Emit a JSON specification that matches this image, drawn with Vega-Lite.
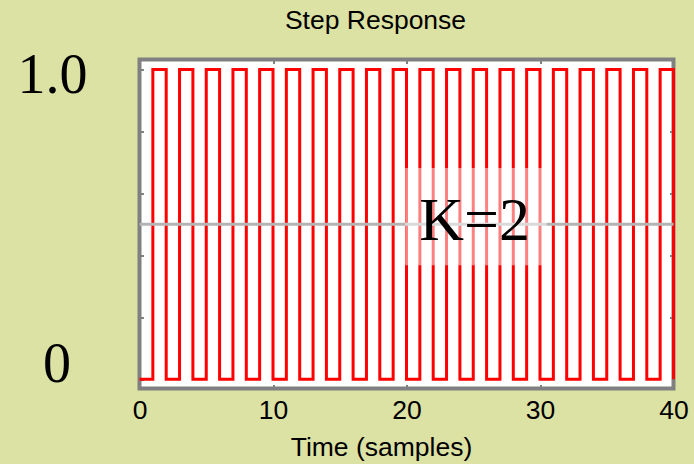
{
  "$schema": "https://vega.github.io/schema/vega-lite/v6.json",
  "autosize": "none",
  "width": 534,
  "height": 329,
  "padding": {"left": 139.5, "top": 59.5, "right": 20.5, "bottom": 75.5},
  "background": "#dce1a4",
  "title": {
    "text": "Step Response",
    "font": "Liberation Sans",
    "fontSize": 26.5,
    "fontWeight": "normal",
    "color": "#000000",
    "anchor": "middle",
    "dx": -31,
    "offset": 13
  },
  "config": {
    "view": {"fill": "#ffffff", "stroke": "#808080", "strokeWidth": 4}
  },
  "datasets": {
    "wave": [
      {"t": 0, "v": 0}, {"t": 1, "v": 1}, {"t": 2, "v": 0}, {"t": 3, "v": 1},
      {"t": 4, "v": 0}, {"t": 5, "v": 1}, {"t": 6, "v": 0}, {"t": 7, "v": 1},
      {"t": 8, "v": 0}, {"t": 9, "v": 1}, {"t": 10, "v": 0}, {"t": 11, "v": 1},
      {"t": 12, "v": 0}, {"t": 13, "v": 1}, {"t": 14, "v": 0}, {"t": 15, "v": 1},
      {"t": 16, "v": 0}, {"t": 17, "v": 1}, {"t": 18, "v": 0}, {"t": 19, "v": 1},
      {"t": 20, "v": 0}, {"t": 21, "v": 1}, {"t": 22, "v": 0}, {"t": 23, "v": 1},
      {"t": 24, "v": 0}, {"t": 25, "v": 1}, {"t": 26, "v": 0}, {"t": 27, "v": 1},
      {"t": 28, "v": 0}, {"t": 29, "v": 1}, {"t": 30, "v": 0}, {"t": 31, "v": 1},
      {"t": 32, "v": 0}, {"t": 33, "v": 1}, {"t": 34, "v": 0}, {"t": 35, "v": 1},
      {"t": 36, "v": 0}, {"t": 37, "v": 1}, {"t": 38, "v": 0}, {"t": 39, "v": 1},
      {"t": 40, "v": 0}
    ],
    "ref": [{"level": 0.5}],
    "label": [{"x1": 19.9, "x2": 30.5, "y1": 0.368, "y2": 0.682, "xt": 25.1, "yt": 0.449, "text": "K=2"}]
  },
  "resolve": {"axis": {"x": "independent", "y": "independent"}},
  "layer": [
    {
      "data": {"name": "wave"},
      "mark": {"type": "line", "interpolate": "step-after", "color": "#ff0000", "strokeWidth": 3},
      "encoding": {
        "x": {
          "field": "t", "type": "quantitative",
          "scale": {"domain": [0, 40], "nice": false, "zero": false},
          "axis": {
            "orient": "bottom",
            "values": [0, 10, 20, 30, 40],
            "domain": false,
            "grid": false,
            "tickSize": -4,
            "tickColor": "#808080",
            "tickWidth": 2,
            "labelFont": "Liberation Sans",
            "labelFontSize": 26.5,
            "labelColor": "#000000",
            "labelPadding": 13,
            "labelFlush": false,
            "title": "Time (samples)",
            "titleFont": "Liberation Sans",
            "titleFontSize": 26.5,
            "titleFontWeight": "normal",
            "titleColor": "#000000",
            "titleAlign": "center",
            "titleBaseline": "alphabetic",
            "titleX": 241.5,
            "titleY": 67
          }
        },
        "y": {
          "field": "v", "type": "quantitative",
          "scale": {"domain": [-0.03, 1.032], "nice": false, "zero": false},
          "axis": {
            "orient": "left",
            "values": [0, 0.2, 0.4, 0.6, 0.8, 1],
            "domain": false,
            "grid": false,
            "tickSize": -4,
            "tickColor": "#808080",
            "tickWidth": 2,
            "labelExpr": "datum.value == 1 ? '1.0' : (datum.value == 0 ? '0' : '')",
            "labelFont": "Liberation Serif",
            "labelFontSize": 56,
            "labelColor": "#000000",
            "labelAlign": "center",
            "labelBaseline": "alphabetic",
            "labelFlush": false,
            "labelOverlap": false,
            "labelPadding": {"condition": {"test": "datum.value == 1", "value": 91.5}, "value": 87},
            "labelOffset": {"condition": {"test": "datum.value == 1", "value": 23.5}, "value": 2},
            "title": null
          }
        }
      }
    },
    {
      "data": {"name": "ref"},
      "mark": {"type": "rule", "color": "#b4b4b4", "strokeWidth": 3},
      "encoding": {
        "y": {"field": "level", "type": "quantitative", "axis": null}
      }
    },
    {
      "data": {"name": "label"},
      "mark": {"type": "rect", "color": "#ffffff", "opacity": 0.5},
      "encoding": {
        "x": {
          "field": "x1", "type": "quantitative",
          "axis": {
            "orient": "top",
            "values": [10, 20, 30],
            "domain": false, "grid": false, "labels": false,
            "tickSize": -4, "tickColor": "#808080", "tickWidth": 2,
            "title": null
          }
        },
        "x2": {"field": "x2"},
        "y": {
          "field": "y1", "type": "quantitative",
          "axis": {
            "orient": "right",
            "values": [0.2, 0.4, 0.6, 0.8],
            "domain": false, "grid": false, "labels": false,
            "tickSize": -4, "tickColor": "#808080", "tickWidth": 2,
            "title": null
          }
        },
        "y2": {"field": "y2"}
      }
    },
    {
      "data": {"name": "label"},
      "mark": {"type": "text", "font": "Liberation Serif", "fontSize": 62, "color": "#000000", "align": "center", "baseline": "alphabetic"},
      "encoding": {
        "x": {"field": "xt", "type": "quantitative", "axis": null},
        "y": {"field": "yt", "type": "quantitative", "axis": null},
        "text": {"field": "text"}
      }
    }
  ]
}
